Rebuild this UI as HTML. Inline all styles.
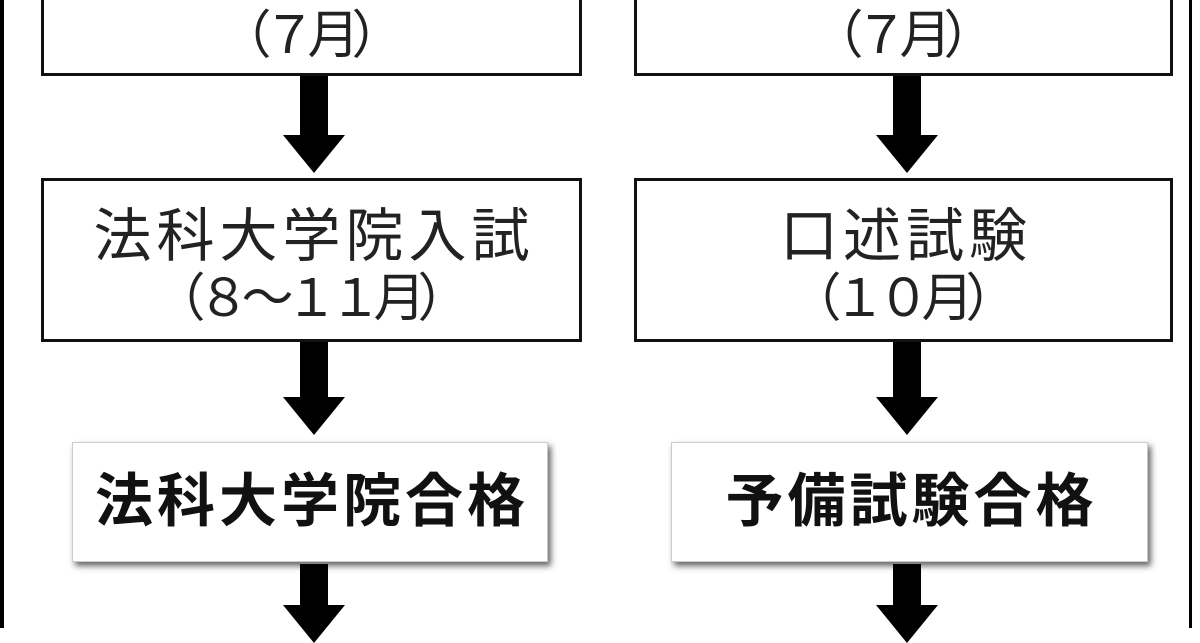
<!DOCTYPE html>
<html><head><meta charset="utf-8"><style>
body{margin:0;width:1200px;height:628px;overflow:hidden;background:#fff;position:relative;font-family:"Liberation Sans","Noto Sans CJK JP",sans-serif;}
.b{position:absolute;border:3px solid #111;box-sizing:border-box;background:#fff;text-align:center;color:#222;font-size:52px;}
.b div{height:63px;line-height:63px;white-space:nowrap;letter-spacing:-8px;text-indent:-8px;}
.b div.k{font-size:58px;letter-spacing:5px;text-indent:5px;}
.s{position:absolute;background:#fff;box-sizing:border-box;border:1px solid #ccc;box-shadow:3px 4px 6px rgba(0,0,0,.6);text-align:center;font-weight:bold;font-size:58px;letter-spacing:4px;text-indent:4px;color:#111;white-space:nowrap;}
.sh{position:absolute;background:#000;}
.hd{position:absolute;width:0;height:0;border-left:31px solid transparent;border-right:31px solid transparent;border-top:38px solid #000;}
</style></head><body>
<div class="sh" style="left:0;top:0;width:4px;height:628px"></div>
<div class="sh" style="left:1189px;top:0;width:3px;height:628px"></div>

<div class="b" style="left:41px;top:-20px;width:541px;height:96px;padding-top:22px;"><div>（７月）</div></div>
<div class="b" style="left:634px;top:-20px;width:539px;height:96px;padding-top:22px;"><div>（７月）</div></div>

<div class="sh" style="left:300px;top:76px;width:28px;height:62px"></div><div class="hd" style="left:283px;top:135px"></div>
<div class="sh" style="left:893px;top:76px;width:28px;height:62px"></div><div class="hd" style="left:876px;top:135px"></div>

<div class="b" style="left:41px;top:178px;width:541px;height:164px;padding-top:24px;"><div class="k">法科大学院入試</div><div>（８〜１１月）</div></div>
<div class="b" style="left:634px;top:178px;width:539px;height:164px;padding-top:24px;"><div class="k">口述試験</div><div>（１０月）</div></div>

<div class="sh" style="left:300px;top:342px;width:28px;height:58px"></div><div class="hd" style="left:283px;top:397px"></div>
<div class="sh" style="left:893px;top:342px;width:28px;height:58px"></div><div class="hd" style="left:876px;top:397px"></div>

<div class="s" style="left:72px;top:442px;width:476px;height:120px;line-height:118px;">法科大学院合格</div>
<div class="s" style="left:671px;top:442px;width:477px;height:120px;line-height:118px;">予備試験合格</div>

<div class="sh" style="left:300px;top:564px;width:28px;height:44px"></div><div class="hd" style="left:283px;top:605px"></div>
<div class="sh" style="left:893px;top:564px;width:28px;height:44px"></div><div class="hd" style="left:876px;top:605px"></div>
</body></html>
